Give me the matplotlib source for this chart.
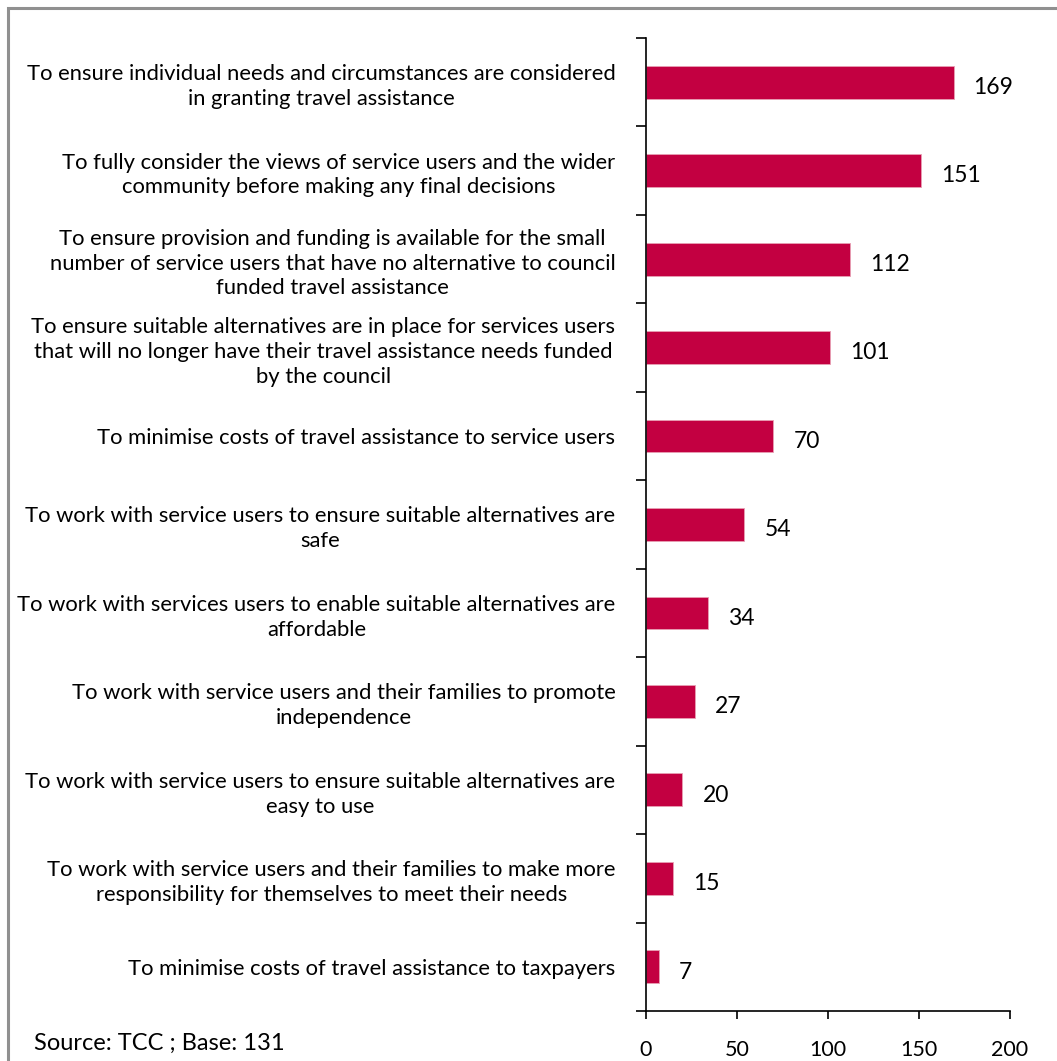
import matplotlib.pyplot as plt
import numpy as np
from matplotlib.patches import Rectangle

categories = [
    "To ensure individual needs and circumstances are considered\nin granting travel assistance",
    "To fully consider the views of service users and the wider\ncommunity before making any final decisions",
    "To ensure provision and funding is available for the small\nnumber of service users that have no alternative to council\nfunded travel assistance",
    "To ensure suitable alternatives are in place for services users\nthat will no longer have their travel assistance needs funded\nby the council",
    "To minimise costs of travel assistance to service users",
    "To work with service users to ensure suitable alternatives are\nsafe",
    "To work with services users to enable suitable alternatives are\naffordable",
    "To work with service users and their families to promote\nindependence",
    "To work with service users to ensure suitable alternatives are\neasy to use",
    "To work with service users and their families to make more\nresponsibility for themselves to meet their needs",
    "To minimise costs of travel assistance to taxpayers",
]
counts = [169, 151, 112, 101, 70, 54, 34, 27, 20, 15, 7]
x_ticks = [0, 50, 100, 150, 200]
source_note = "Source: TCC ; Base: 131"

bar_color = "#C30041"
plt.rcParams['font.family'] = ['Lato', 'DejaVu Sans']

W, H = 1057, 1061
fig = plt.figure(figsize=(W / 100, H / 100), dpi=100)
ax = fig.add_axes([646 / W, 1 - 1011 / H, (1010 - 646) / W, (1011 - 38) / H])

n = len(categories)
ypos = np.arange(n)
ax.barh(ypos, counts, height=0.37, color=bar_color, edgecolor="#E8A0B4", linewidth=0.6)

for y, v in zip(ypos, counts):
    ax.text(v + 11, y + 0.06, str(v), va="center", ha="left", fontsize=16.5)

ax.set_xlim(0, 200)
ax.set_ylim(n - 0.5, -0.5)
ax.set_xticks(x_ticks)
ax.set_xticklabels([str(t) for t in x_ticks], fontsize=15.5)
ax.tick_params(axis="x", direction="out", length=6, width=1.2, pad=15)

ax.set_yticks(ypos)
ax.set_yticklabels(categories, fontsize=15.8, multialignment="center", linespacing=1.3)
ax.set_yticks(np.arange(-0.5, n, 1.0), minor=True)
ax.tick_params(axis="y", which="major", length=0, pad=22)
ax.tick_params(axis="y", which="minor", direction="out", length=7, width=1.2)

for side in ("top", "right"):
    ax.spines[side].set_visible(False)
for side in ("left", "bottom"):
    ax.spines[side].set_linewidth(1.2)

fig.text(34 / W, 1 - 1043 / H, source_note, fontsize=17, va="center", ha="left")

# outer frame (only top and left edges fall inside the image)
fig.patches.append(Rectangle((8 / W, -0.05), 1.1, 1 - 8 / H + 0.05,
                             transform=fig.transFigure, fill=False,
                             edgecolor="#909090", linewidth=2.2))

fig.savefig("out.png", dpi=100)
